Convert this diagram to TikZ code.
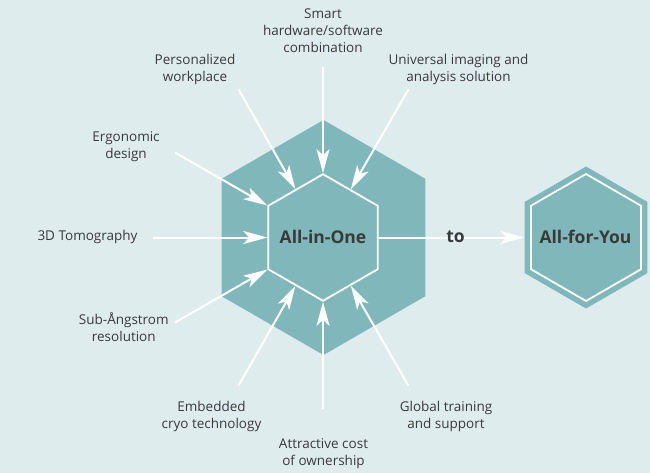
\documentclass[tikz,border=0pt]{standalone}
\usepackage{fontspec}
\setmainfont{Open Sans}
\usetikzlibrary{shapes.geometric,arrows.meta}
\definecolor{bgc}{HTML}{DFECEE}
\definecolor{teal}{HTML}{80B7BB}
\definecolor{txt}{HTML}{3A3A3A}
\begin{document}
\begin{tikzpicture}[x=1pt,y=-1pt,
  hexfill/.style={regular polygon, regular polygon sides=6, shape border rotate=30, fill=teal, draw=none, inner sep=0pt},
  hexline/.style={regular polygon, regular polygon sides=6, shape border rotate=30, draw=white, line width=1.8pt, inner sep=0pt},
  lbl/.style={align=center, text=txt, font=\fontsize{13.5}{17}\selectfont, inner sep=0pt},
  boldlbl/.style={text=txt, font=\fontsize{17.5}{20}\selectfont\bfseries, inner sep=0pt},
  arr/.style={draw=white, line width=2pt, -{Stealth[length=24pt,width=13pt,inset=6pt]}}
]
\useasboundingbox (0,0) rectangle (650,473);
\fill[bgc] (0,0) rectangle (650,473);

% hexagons
\node[hexfill, minimum size=235pt] (big) at (323.5,237.5) {};
\node[hexline, minimum size=126.6pt] (inner) at (323,237.5) {};
\node[hexfill, minimum size=142pt] (rhex) at (586,237.5) {};
\node[hexline, minimum size=127pt] (rin) at (586,237.5) {};

% arrow start points
\coordinate (s1) at (175,152.5);
\coordinate (s2) at (238.5,89.3);
\coordinate (s3) at (323,66.7);
\coordinate (s4) at (408.5,89.3);
\coordinate (s5) at (152.5,237.5);
\coordinate (s6) at (175,322.5);
\coordinate (s7) at (238.5,385.7);
\coordinate (s8) at (323,409.3);
\coordinate (s9) at (408.5,385.7);

\foreach \s in {s1,s2,s3,s4,s5,s6,s7,s8,s9}
  \draw[arr] (\s) -- (inner);

\draw[arr] (inner) -- (rhex);

% labels
\node[boldlbl] (aio) at (323,236.5) {All-in-One};
\node[boldlbl] (afy) at (585.5,236.5) {All-for-You};
\node[boldlbl] (to) at (455.5,236.5) {to};

\node[lbl] (l3) at (323,30.5) {Smart\\hardware/software\\combination};
\node[lbl] (l2) at (195,69) {Personalized\\workplace};
\node[lbl] (l4) at (458.5,69) {Universal imaging and\\analysis solution};
\node[lbl] (l1) at (126,146.3) {Ergonomic\\design};
\node[lbl] (l5) at (87.5,237) {3D Tomography};
\node[lbl] (l6) at (123.8,327.5) {Sub-Ångstrom\\resolution};
\node[lbl] (l7) at (211.5,416) {Embedded\\cryo technology};
\node[lbl] (l9) at (446,416) {Global training\\and support};
\node[lbl] (l8) at (323.5,453.7) {Attractive cost\\of ownership};
\end{tikzpicture}
\end{document}
